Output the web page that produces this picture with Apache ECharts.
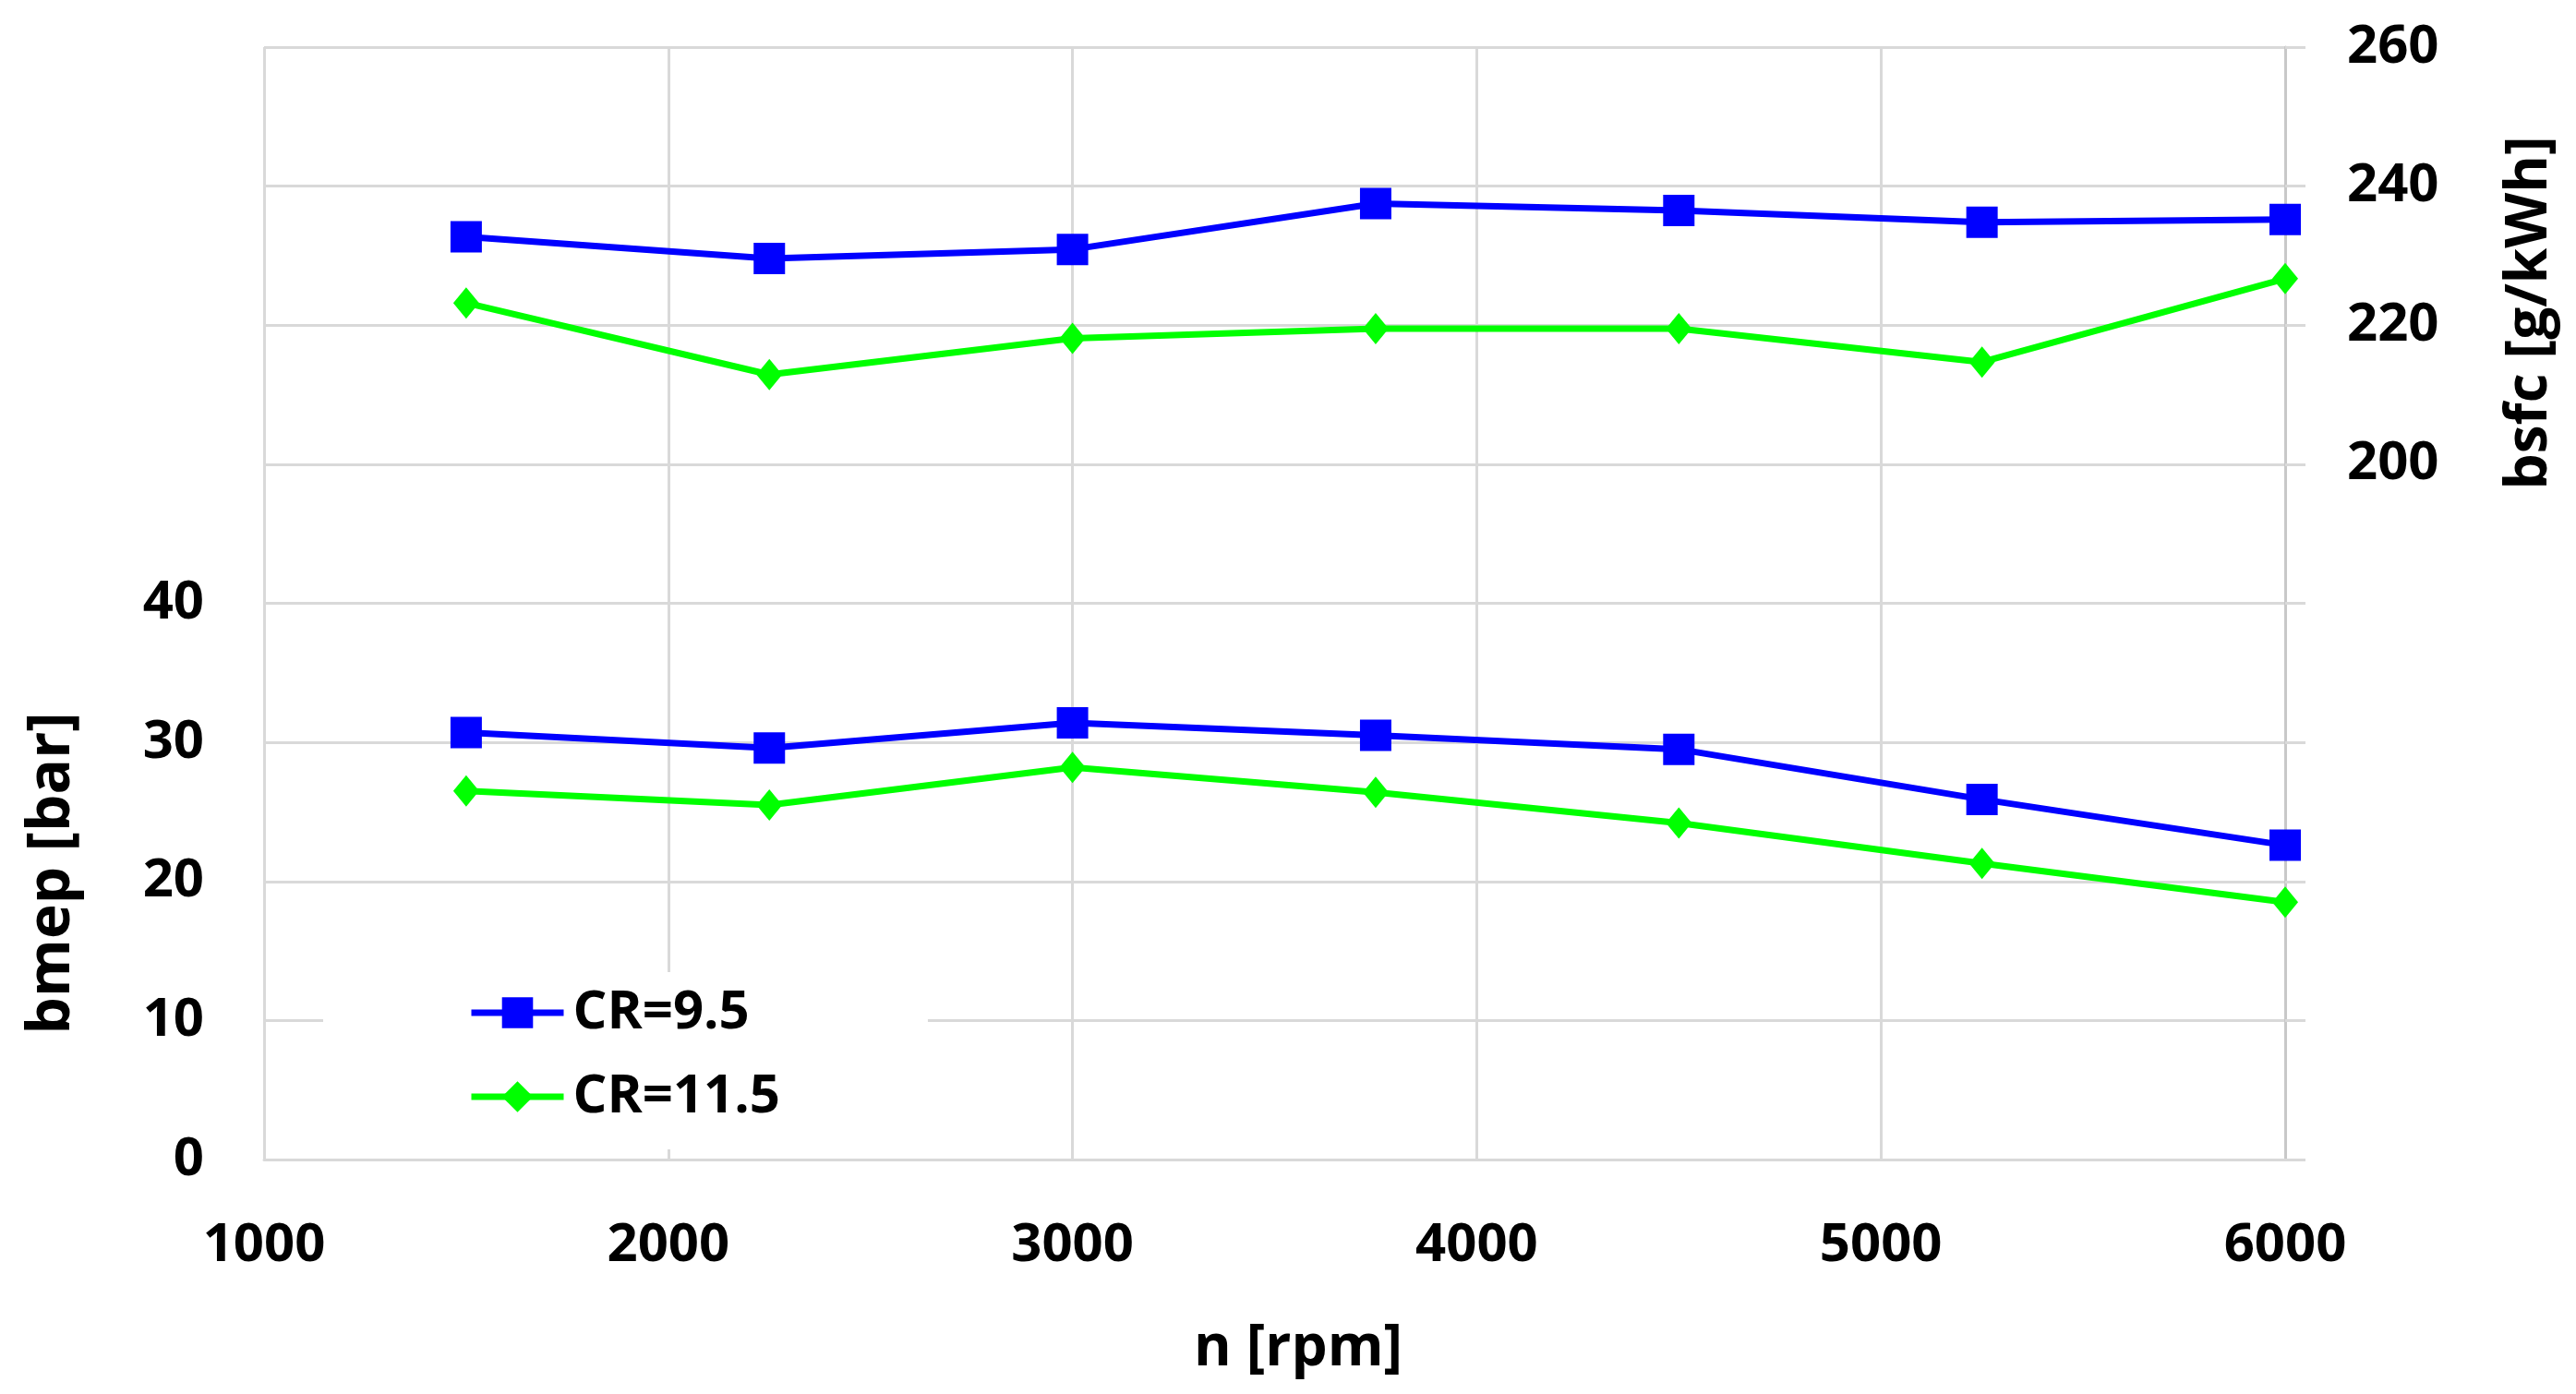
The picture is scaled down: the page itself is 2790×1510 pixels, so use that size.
<!DOCTYPE html>
<html>
<head>
<meta charset="utf-8">
<script src="https://cdn.jsdelivr.net/npm/echarts@6/dist/echarts.min.js"></script>
<style>
html,body{margin:0;padding:0;background:#fff;}
#chart{width:2790px;height:1510px;}
</style>
</head>
<body>
<div id="chart"></div>
<script>
var rpm = [1500, 2250, 3000, 3750, 4500, 5250, 6000];
var bmepCR95  = [30.7, 29.6, 31.4, 30.5, 29.5, 25.9, 22.6];
var bmepCR115 = [26.5, 25.5, 28.2, 26.4, 24.2, 21.3, 18.5];
var bsfcCR95  = [232.7, 229.6, 230.9, 237.5, 236.5, 234.8, 235.2];
var bsfcCR115 = [223.2, 212.9, 218.1, 219.5, 219.5, 214.7, 226.7];
var seriesNames = ['CR=9.5', 'CR=11.5'];
var xTitle = 'n [rpm]';
var yLeftTitle = 'bmep [bar]';
var yRightTitle = 'bsfc [g/kWh]';

function pairs(xs, ys){ return xs.map(function(x,i){ return [x, ys[i]]; }); }

var FONT = '"Open Sans", "DejaVu Sans", sans-serif';
var BLUE = '#0000ff', GREEN = '#00ff00';
var GRID = '#d9d9d9';

var chart = echarts.init(document.getElementById('chart'));
var lab = {fontFamily: FONT, fontWeight: 'bold', fontSize: 58, color: '#000'};

function lineSeries(name, data, axis, color, symbol, size){
  return {
    name: name, type: 'line', yAxisIndex: axis, data: data,
    symbol: symbol, symbolSize: size,
    lineStyle: {color: color, width: 7},
    itemStyle: {color: color},
    animation: false
  };
}

chart.setOption({
  animation: false,
  backgroundColor: '#fff',
  grid: {left: 286, right: 315, top: 51, bottom: 254, containLabel: false},
  xAxis: {
    type: 'value', min: 1000, max: 6000, interval: 1000,
    axisLine: {show: true, lineStyle: {color: GRID, width: 3}},
    axisTick: {show: false},
    axisLabel: Object.assign({margin: 64, formatter: function(v){ return String(v); }}, lab),
    splitLine: {show: true, lineStyle: {color: GRID, width: 3}}
  },
  yAxis: [
    {
      type: 'value', min: 0, max: 80, interval: 10, position: 'left',
      axisLine: {show: false}, axisTick: {show: false},
      axisLabel: Object.assign({margin: 65, formatter: function(v){ return v <= 40 ? String(v) : ''; }}, lab),
      splitLine: {show: true, lineStyle: {color: GRID, width: 3}}
    },
    {
      type: 'value', min: 100, max: 260, interval: 20, position: 'right',
      axisLine: {show: true, lineStyle: {color: '#c8c8c8', width: 3}},
      axisTick: {show: true, inside: false, length: 22, lineStyle: {color: GRID, width: 3}},
      axisLabel: Object.assign({margin: 67, formatter: function(v){ return v >= 200 ? String(v) : ''; }}, lab),
      splitLine: {show: false}
    }
  ],
  legend: {
    data: seriesNames,
    orient: 'vertical',
    left: 350, top: 1053,
    backgroundColor: '#fff',
    padding: [15, 160, 28, 157],
    itemWidth: 100, itemHeight: 42, itemGap: 33,
    lineStyle: {width: 7},
    textStyle: {fontFamily: FONT, fontWeight: 'bold', fontSize: 58, color: '#000', padding: [0, 0, 0, 5]}
  },
  graphic: [
    {type: 'text', x: 1406, y: 1461, style: {text: xTitle, font: 'bold 62px ' + FONT, fill: '#000', textAlign: 'center', textVerticalAlign: 'middle'}},
    {type: 'text', x: 57, y: 946, rotation: Math.PI / 2, style: {text: yLeftTitle, font: 'bold 64px ' + FONT, fill: '#000', textAlign: 'center', textVerticalAlign: 'middle'}},
    {type: 'text', x: 2740, y: 339, rotation: Math.PI / 2, style: {text: yRightTitle, font: 'bold 62px ' + FONT, fill: '#000', textAlign: 'center', textVerticalAlign: 'middle'}}
  ],
  series: [
    lineSeries(seriesNames[0], pairs(rpm, bmepCR95), 0, BLUE, 'rect', 34),
    lineSeries(seriesNames[0], pairs(rpm, bsfcCR95), 1, BLUE, 'rect', 34),
    lineSeries(seriesNames[1], pairs(rpm, bmepCR115), 0, GREEN, 'diamond', [28, 34]),
    lineSeries(seriesNames[1], pairs(rpm, bsfcCR115), 1, GREEN, 'diamond', [28, 34])
  ]
});
</script>
</body>
</html>
